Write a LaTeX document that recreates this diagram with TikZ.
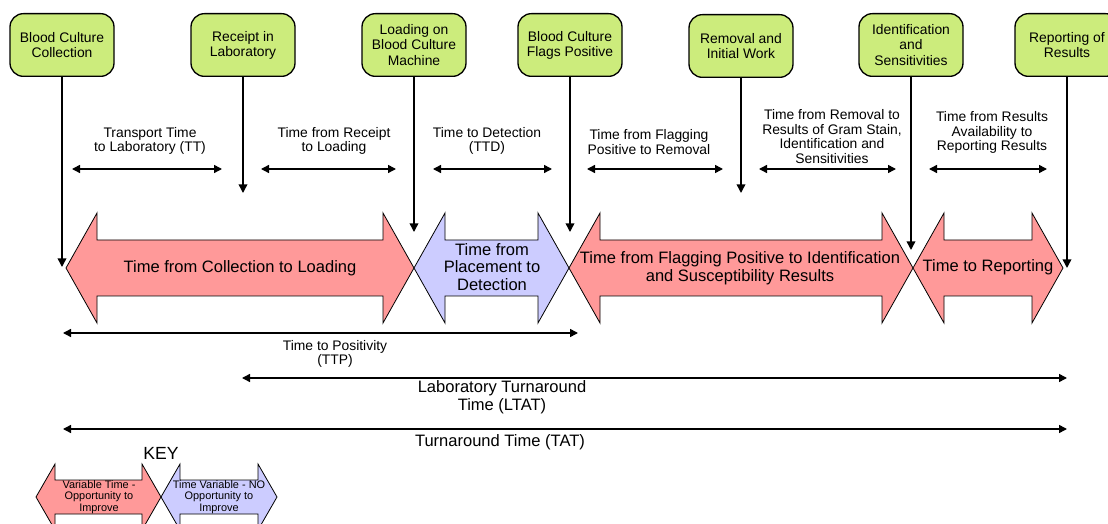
\documentclass[tikz,border=0pt]{standalone}
\usepackage{fontspec}
\setmainfont{Liberation Sans}
\usetikzlibrary{arrows.meta}
\definecolor{boxgreen}{RGB}{204,236,124}
\definecolor{varpink}{RGB}{255,153,153}
\definecolor{fixblue}{RGB}{204,204,255}
\newcommand\boxfnt{\fontsize{10.4}{11.3}\selectfont}
\newcommand\lblfnt{\fontsize{10.4}{10.9}\selectfont}
\newcommand\bigfnt{\fontsize{12.4}{13.1}\selectfont}
\newcommand\keyfnt{\fontsize{8.2}{8.6}\selectfont}
\newcommand\keyhdfnt{\fontsize{13.2}{14}\selectfont}
% #1 fill, #2 xL, #3 xR, #4 yc, #5 outer half, #6 shaft half, #7 head length
\newcommand\dblarr[7]{%
  \filldraw[bigarrow, fill=#1] (#2,#4) -- ({#2+#7},{#4-#5}) -- ({#2+#7},{#4-#6})
   -- ({#3-#7},{#4-#6}) -- ({#3-#7},{#4-#5}) -- (#3,#4) -- ({#3-#7},{#4+#5})
   -- ({#3-#7},{#4+#6}) -- ({#2+#7},{#4+#6}) -- ({#2+#7},{#4+#5}) -- cycle;}
\tikzset{
  box/.style={draw=black, line width=1pt, fill=boxgreen, rounded corners=10pt,
    minimum width=78pt, minimum height=47pt, align=center, font=\boxfnt, inner sep=0pt},
  lbl/.style={align=center, font=\lblfnt, inner sep=0pt},
  bigtxt/.style={align=center, font=\bigfnt, inner sep=0pt},
  keytxt/.style={align=center, font=\keyfnt, inner sep=0pt},
  conn/.style={line width=1.1pt, -{Triangle[length=6.5pt,width=6.5pt]}},
  span/.style={line width=1.1pt, {Triangle[length=6pt,width=6pt]}-{Triangle[length=6pt,width=6pt]}},
  bigarrow/.style={draw=black, line width=0.6pt, line join=miter},
}
\begin{document}
\begin{tikzpicture}[x=0.75pt,y=-0.75pt]
\useasboundingbox (0,0) rectangle (1108,524);
% big time arrows
\dblarr{varpink}{66}{414}{268}{55}{28}{31}
\dblarr{fixblue}{414}{569}{268}{55}{28}{31}
\dblarr{varpink}{569}{913}{268}{55}{28}{31}
\dblarr{varpink}{913}{1063}{268}{55}{28}{31}
\node[bigtxt] (a1) at (240,268) {Time from Collection to Loading};
\node[bigtxt] (a2) at (492,267) {Time from\\Placement to\\Detection};
\node[bigtxt] (a3) at (740,268) {Time from Flagging Positive to Identification\\and Susceptibility Results};
\node[bigtxt] (a4) at (988,267) {Time to Reporting};
% event boxes
\node[box] (b1) at (62,45) {Blood Culture\\Collection};
\node[box] (b2) at (243,45) {Receipt in\\Laboratory};
\node[box] (b3) at (414,45) {Loading on\\Blood Culture\\Machine};
\node[box] (b4) at (570,45) {Blood Culture\\Flags Positive};
\node[box] (b5) at (741,46) {Removal and\\Initial Work};
\node[box] (b6) at (911,45) {Identification\\and\\Sensitivities};
\node[box] (b7) at (1067,45) {Reporting of\\Results};
% connector ends
\coordinate (t1) at (62,267);
\coordinate (t2) at (243,193);
\coordinate (t3) at (414,232);
\coordinate (t4) at (570,232);
\coordinate (t5) at (741,193);
\coordinate (t6) at (911,250);
\coordinate (t7) at (1067,268);
\foreach \i in {1,...,7} {\draw[conn] (b\i.south) -- (t\i);}
% interval labels
\node[lbl] (l1) at (150,141) {Transport Time\\to Laboratory (TT)};
\node[lbl] (l2) at (334,141) {Time from Receipt\\to Loading};
\node[lbl] (l3) at (487,141) {Time to Detection\\(TTD)};
\node[lbl] (l4) at (649,142) {Time from Flagging\\Positive to Removal};
\node[lbl] (l5) at (832,136.5) {Time from Removal to\\Results of Gram Stain,\\Identification and\\Sensitivities};
\node[lbl] (l6) at (992,132.5) {Time from Results\\Availability to\\Reporting Results};
\coordinate (s1a) at (72,169);  \coordinate (s1b) at (222,169);
\coordinate (s2a) at (261,169); \coordinate (s2b) at (396,169);
\coordinate (s3a) at (433,169); \coordinate (s3b) at (552,169);
\coordinate (s4a) at (587,169); \coordinate (s4b) at (723,169);
\coordinate (s5a) at (759,169); \coordinate (s5b) at (896,169);
\coordinate (s6a) at (929,169); \coordinate (s6b) at (1047,169);
\foreach \i in {1,...,6} {\draw[span] (s\i a) -- (s\i b);}
% overall spans
\coordinate (ttpa) at (63,333);  \coordinate (ttpb) at (578,333);
\coordinate (ltata) at (242,378); \coordinate (ltatb) at (1067,378);
\coordinate (tata) at (63,429);  \coordinate (tatb) at (1067,429);
\draw[span] (ttpa) -- (ttpb);
\draw[span] (ltata) -- (ltatb);
\draw[span] (tata) -- (tatb);
\node[lbl] (ttp) at (335,354) {Time to Positivity\\(TTP)};
\node[bigtxt, font=\fontsize{12.4}{13.5}\selectfont] (ltat) at (502,397) {Laboratory Turnaround\\Time (LTAT)};
\node[bigtxt] (tat) at (500,442) {Turnaround Time (TAT)};
% key
\node[font=\keyhdfnt, inner sep=0pt] (key) at (161,453) {KEY};
\dblarr{varpink}{36}{161}{497}{33}{17}{19}
\dblarr{fixblue}{161}{277}{497}{33}{17}{19}
\node[keytxt] (k1) at (99,497) {Variable Time -\\Opportunity to\\Improve};
\node[keytxt] (k2) at (219,497) {Time Variable - NO\\Opportunity to\\Improve};
\end{tikzpicture}
\end{document}
